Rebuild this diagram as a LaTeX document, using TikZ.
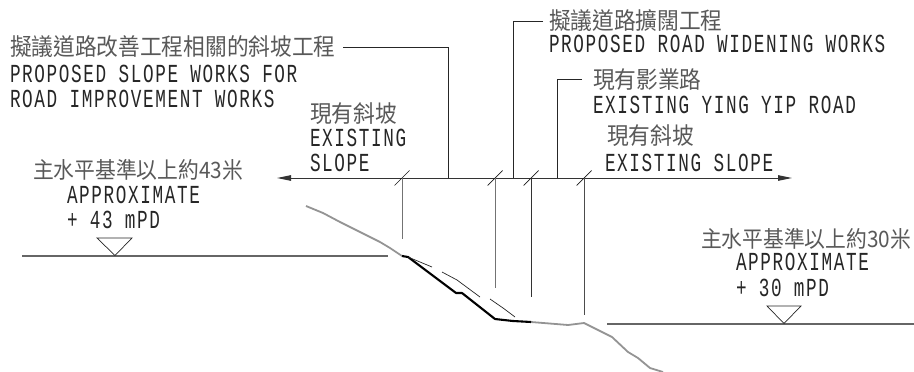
\documentclass[tikz,border=0pt]{standalone}
\usepackage{fontspec}
\usetikzlibrary{arrows.meta}
\newfontfamily\cadfont[FakeStretch=0.68,LetterSpace=6.3]{Liberation Mono}
\newfontfamily\cjkfont[FakeStretch=0.92]{Noto Sans CJK TC}
\tikzset{
  en/.style={anchor=base west,inner sep=0pt,outer sep=0pt,font=\cadfont\fontsize{26}{26}\selectfont,text=black!85},
  zh/.style={anchor=base west,inner sep=0pt,outer sep=0pt,font=\cjkfont\fontsize{23.6}{24}\selectfont,text=black!65},
  zhlevel/.style={zh,font=\cjkfont\fontsize{22.6}{24}\selectfont},
  thin line/.style={line width=0.9pt,black!85},
  dim/.style={line width=1pt,black!80},
  gray ground/.style={line width=1.8pt,black!42,line join=round},
  bold ground/.style={line width=2.1pt,black,line join=round},
  datum/.style={line width=1.2pt,black!60},
  levelmark/.style={line width=0.7pt,black!85},
}
\begin{document}
\begin{tikzpicture}[x=1pt,y=-1pt]
\useasboundingbox (0,0) rectangle (914,372);
% texts
\node[zh] (t1) at (10,56) {擬議道路改善工程相關的斜坡工程};
\node[en] (t2) at (10,82) {PROPOSED SLOPE WORKS FOR};
\node[en] (t3) at (10,107) {ROAD IMPROVEMENT WORKS};
\node[zh] (t4) at (310,122) {現有斜坡};
\node[en] (t5) at (310,146) {EXISTING};
\node[en] (t6) at (310,171) {SLOPE};
\node[zhlevel] (t7) at (33,178) {主水平基準以上約43米};
\node[en] (t8) at (67,203) {APPROXIMATE};
\node[en] (t9) at (67,228) {+ 43 mPD};
\node[zh] (t10) at (549,29) {擬議道路擴闊工程};
\node[en] (t11) at (549,52) {PROPOSED ROAD WIDENING WORKS};
\node[zh] (t12) at (593,88) {現有影業路};
\node[en] (t13) at (593,113) {EXISTING YING YIP ROAD};
\node[zh] (t14) at (607,144) {現有斜坡};
\node[en] (t15) at (605,171) {EXISTING SLOPE};
\node[zhlevel] (t16) at (701,247) {主水平基準以上約30米};
\node[en] (t17) at (736,270) {APPROXIMATE};
\node[en] (t18) at (736,296) {+ 30 mPD};
% dimension line
\coordinate (dl) at (277,178);
\coordinate (dr) at (792,178);
\draw[dim,{Stealth[length=14pt,width=5.5pt,inset=0pt]}-{Stealth[length=14pt,width=5.5pt,inset=0pt]}] (dl) -- (dr);
% leaders
\coordinate (l1) at (343,47); \coordinate (l1c) at (448,47); \coordinate (l1e) at (448,178);
\coordinate (l2) at (543,21); \coordinate (l2c) at (513,21); \coordinate (l2e) at (513,178);
\coordinate (l3) at (582,79); \coordinate (l3c) at (557,79); \coordinate (l3e) at (557,178);
\draw[thin line] (l1) -- (l1c) -- (l1e);
\draw[thin line] (l2) -- (l2c) -- (l2e);
\draw[thin line] (l3) -- (l3c) -- (l3e);
% ticks and drop lines
\foreach \n/\x/\yend/\c in {a/402/239/55,b/495/288/55,c/531/297/80,d/584/315/70}{
  \coordinate (tick\n) at (\x,178);
  \coordinate (drop\n) at (\x,\yend);
  \draw[line width=0.7pt,black!90] ([shift={(-7.5,7.5)}]tick\n) -- ([shift={(7.5,-7.5)}]tick\n);
  \draw[line width=1pt,black!\c] (tick\n) -- (drop\n);
}
% existing ground
\draw[gray ground] (306,206) -- (323,213) -- (340,222) -- (360,232) -- (380,242) -- (390,248) -- (402,256);
\draw[gray ground] (531,322) -- (568,325) -- (584,323) -- (612,337) -- (628,352) -- (638,358) -- (650,368) -- (663,372);
% proposed ground
\draw[bold ground] (402,256) -- (408,257) -- (456,293) -- (462,293) -- (495,319) -- (513,321) -- (531,322);
% existing profile (dashed remainder)
\draw[line width=0.7pt,black!85] (408,257) -- (420,262) -- (432,267);
\draw[line width=0.7pt,black!85] (442,272) -- (457,280) -- (480,297);
\draw[line width=0.7pt,black!85] (490,299) -- (503,308) -- (515,317);
% datums
\coordinate (gl1) at (22,256); \coordinate (gl2) at (388,256);
\coordinate (gr1) at (607,324); \coordinate (gr2) at (914,324);
\draw[datum] (gl1) -- (gl2);
\draw[datum] (gr1) -- (gr2);
\draw[levelmark] (97,238) -- (132,238) -- (115,255.5) -- cycle;
\draw[levelmark] (767,306) -- (801,306) -- (784,323.5) -- cycle;
\end{tikzpicture}
\end{document}
